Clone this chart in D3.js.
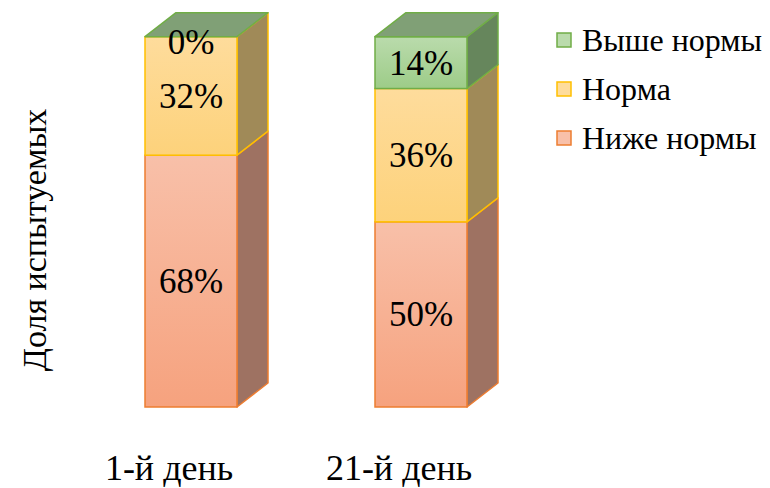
<!DOCTYPE html>
<html><head><meta charset="utf-8">
<script src="https://cdn.jsdelivr.net/npm/d3@7"></script>
</head><body style="margin:0;background:#fff">
<div id="wrap" style="position:relative;width:770px;height:488px;overflow:hidden">
<svg id="c" width="770" height="488" style="display:block;position:absolute;left:0;top:0"></svg>
</div>
<script>
const categories = ["1-й день", "21-й день"];
const seriesNames = ["Ниже нормы", "Норма", "Выше нормы"];
const below = [68, 50];
const normal = [32, 36];
const above = [0, 14];
const yAxisTitle = "Доля испытуемых";

const serifFamily = ["Liberation Serif", "Times New Roman", "Tinos"];
const svg = d3.select("#c");
const wrap = d3.select("#wrap");
const x = d3.scaleBand().domain(categories).range([145, 467]).paddingInner(0.6).paddingOuter(0);
const y = d3.scaleLinear().domain([0, 100]).range([407, 36.7]);
const dx = 31, dy = -24;

function label(txt, left, top, size, transform) {
  return wrap.append("div")
    .style("position", "absolute")
    .style("left", left + "px")
    .style("top", top + "px")
    .style("font-family", serifFamily.map(f => `"${f}"`).join(","))
    .style("font-size", size + "px")
    .style("line-height", "1")
    .style("white-space", "nowrap")
    .style("color", "#000")
    .style("transform", transform)
    .text(txt);
}

const styles = [
  {stroke:"#ed7d31", top:"#f8c0a9", bot:"#f6a27e", side:"rgb(158,114,98)"},
  {stroke:"#ffc000", top:"#fedc9c", bot:"#fdd27b", side:"rgb(160,138,88)"},
  {stroke:"#70ad47", top:"#badbac", bot:"#9dcc88", side:"rgb(102,134,92)"}
];
const topFace = "rgb(128,160,118)";

const defs = svg.append("defs");
styles.forEach((s,i)=>{
  const g = defs.append("linearGradient").attr("id","g"+i).attr("x1",0).attr("y1",0).attr("x2",0).attr("y2",1);
  g.append("stop").attr("offset","0%").attr("stop-color",s.top);
  g.append("stop").attr("offset","100%").attr("stop-color",s.bot);
});

const data = [below, normal, above];
const stack = d3.stack().keys([0,1,2]).value((d,k)=>data[k][d])(categories.map((c,i)=>i));

stack.forEach((layer, si) => {
  const s = styles[si];
  layer.forEach((d, ci) => {
    const x0 = x(categories[ci]), x1 = x0 + x.bandwidth();
    const yb = y(d[0]), yt = y(d[1]);
    if (d[1] - d[0] <= 0) return;
    svg.append("path")
      .attr("d", `M${x1},${yt}L${x1+dx},${yt+dy}L${x1+dx},${yb+dy}L${x1},${yb}Z`)
      .attr("fill", s.side).attr("stroke", s.stroke).attr("stroke-width", 1.5).attr("stroke-linejoin","round");
    svg.append("rect").attr("x", x0).attr("y", yt).attr("width", x.bandwidth()).attr("height", yb - yt)
      .attr("fill", `url(#g${si})`).attr("stroke", s.stroke).attr("stroke-width", 1.5);
  });
});
categories.forEach((c, ci) => {
  const x0 = x(c), x1 = x0 + x.bandwidth();
  const yt = y(below[ci] + normal[ci] + above[ci]);
  svg.append("path")
    .attr("d", `M${x0},${yt}L${x0+dx},${yt+dy}L${x1+dx},${yt+dy}L${x1},${yt}Z`)
    .attr("fill", topFace).attr("stroke", styles[2].stroke).attr("stroke-width", 1.5).attr("stroke-linejoin","round");
});
// value labels
stack.forEach((layer, si) => {
  layer.forEach((d, ci) => {
    const cx = x(categories[ci]) + x.bandwidth()/2;
    const cy = d[1] - d[0] > 0 ? (y(d[0]) + y(d[1]))/2 : y(d[1]) + 5;
    label((d[1]-d[0]) + "%", cx, cy, 35, "translate(-50%,-50%)");
  });
});
// category labels
categories.forEach(c => {
  label(c, x(c) + x.bandwidth()/2 - 22, 468, 36, "translate(-50%,-50%)");
});
// y title
label(yAxisTitle, 35, 240, 34, "translate(-50%,-50%) rotate(-90deg)");
// legend
const legOrder = [2,1,0];
legOrder.forEach((si, i) => {
  const ly = 40 + i * 49;
  svg.append("rect").attr("x", 557).attr("y", ly - 7).attr("width", 14).attr("height", 14)
    .attr("fill", styles[si].top).attr("stroke", styles[si].stroke).attr("stroke-width", 1.5);
  label(seriesNames[si], 582, ly, 32, "translate(0,-50%)");
});
</script></body></html>
